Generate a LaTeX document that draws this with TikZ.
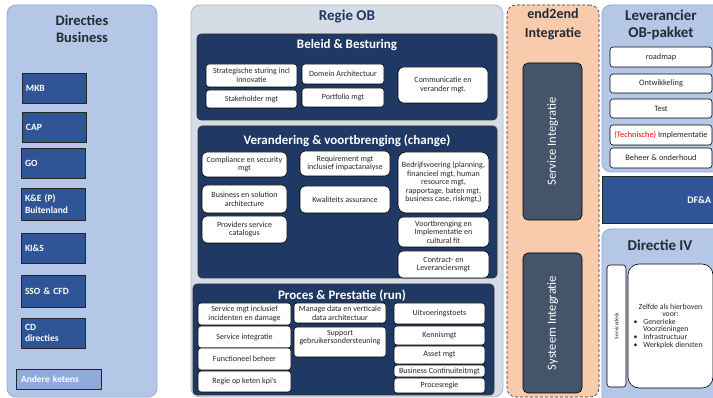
\documentclass[tikz,border=0pt]{standalone}
\usepackage{fontspec}
\setmainfont{Carlito}
\definecolor{lightblue}{HTML}{B4C7E7}
\definecolor{lightblueline}{HTML}{8FAADC}
\definecolor{regiefill}{HTML}{D6DCE5}
\definecolor{regieline}{HTML}{ADB9CA}
\definecolor{navy}{HTML}{203864}
\definecolor{midblue}{HTML}{2F5597}
\definecolor{paleblue}{HTML}{8FAADC}
\definecolor{peach}{HTML}{F8CBAD}
\definecolor{slate}{HTML}{44546A}
\definecolor{txt}{HTML}{262626}
\definecolor{titletxt}{HTML}{222A35}
\begin{document}
\begin{tikzpicture}[x=1pt,y=-1pt,
  panel/.style={rounded corners=9pt, line width=0.8pt, inner sep=0pt},
  navybox/.style={fill=navy, draw=black!80, rounded corners=4pt, line width=0.6pt, inner sep=0pt},
  wbox/.style={draw=black, fill=white, rounded corners=3pt, line width=0.6pt, align=center,
     inner sep=1pt, font=\fontsize{8}{8.6}\selectfont, text=txt},
  lbox/.style={draw=black!85, fill=midblue, line width=0.8pt, text=white,
     font=\bfseries\fontsize{9.5}{11.5}\selectfont, align=left, text width=56pt,
     inner xsep=4pt, inner ysep=0pt, minimum height=30pt},
  ptitle/.style={font=\bfseries\fontsize{14.5}{17.5}\selectfont, align=center, text=titletxt},
  wtitle/.style={font=\bfseries\fontsize{13}{15}\selectfont, text=white},
  vbox/.style={fill=slate, draw=black, rounded corners=5pt, line width=0.6pt, rotate=90,
     text=white, font=\fontsize{12.5}{14}\selectfont},
  levbox/.style={wbox, minimum width=102pt, font=\fontsize{8.3}{9}\selectfont}
]
\useasboundingbox (0,0) rectangle (713,398);
\clip (0,0) rectangle (713,398);

% ---------------- Directies Business ----------------
\node[panel, fill=lightblue, draw=lightblueline, minimum width=150pt, minimum height=392pt] (dirbus) at (82,201) {};
\node[ptitle] (dirbustitle) at (82,29) {Directies\\Business};
\node[lbox] (mkb) at (54,88.5) {MKB};
\node[lbox] (cap) at (54,127) {CAP};
\node[lbox] (go) at (53,163) {GO};
\node[lbox, minimum height=32pt] (ke) at (53,204) {K\&E (P)\\Buitenland};
\node[lbox] (kis) at (53,248) {KI\&S};
\node[lbox, minimum height=32pt] (sso) at (53,291) {SSO \& CFD};
\node[lbox] (cd) at (53,333) {CD\\directies};
\node[lbox, fill=paleblue, text width=75pt, inner xsep=5pt, minimum height=20pt] (andere) at (58.5,379) {Andere ketens};

% ---------------- Regie OB ----------------
\node[panel, fill=regiefill, draw=regieline, minimum width=312pt, minimum height=392pt] (regie) at (347,201) {};
\node[ptitle, text=navy, font=\bfseries\fontsize{15}{17}\selectfont] (regietitle) at (347,17) {Regie OB};

% Beleid & Besturing
\node[navybox, minimum width=300pt, minimum height=86pt] (beleid) at (347,77) {};
\node[wtitle] (beleidtitle) at (347,45) {Beleid \& Besturing};
\node[wbox, minimum width=91pt, minimum height=23pt] (strat) at (251.5,75.5) {Strategische sturing incl\\innovatie};
\node[wbox, minimum width=82pt, minimum height=20pt] (domein) at (343,74) {Domein Architectuur};
\node[wbox, minimum width=91pt, minimum height=18pt] (stake) at (251.5,99) {Stakeholder mgt};
\node[wbox, minimum width=82pt, minimum height=19pt] (portfolio) at (343,97.5) {Portfolio mgt};
\node[wbox, rounded corners=6pt, minimum width=90pt, minimum height=36pt] (commu) at (443,85) {Communicatie en\\verander mgt.};

% Verandering & voortbrenging
\node[navybox, minimum width=299pt, minimum height=152pt] (verand) at (347.5,202) {};
\node[wtitle] (verandtitle) at (347,141) {Verandering \& voortbrenging (change)};
\node[wbox, rounded corners=5pt, minimum width=85pt, minimum height=25pt] (compl) at (244.5,164.5) {Compliance en security\\mgt};
\node[wbox, rounded corners=5pt, minimum width=90pt, minimum height=25pt] (req) at (345,163.5) {Requirement mgt\\inclusief impactanalyse};
\node[wbox, rounded corners=8pt, minimum width=91pt, minimum height=61pt] (bedrijf) at (443.5,182.5) {Bedrijfsvoering (planning,\\financieel mgt, human\\resource mgt,\\rapportage, baten mgt,\\business case, riskmgt,)};
\node[wbox, rounded corners=5pt, minimum width=85pt, minimum height=28pt] (bussol) at (244.5,199) {Business en solution\\architecture};
\node[wbox, rounded corners=5pt, minimum width=90pt, minimum height=27pt] (kwal) at (345,199.5) {Kwaliteits assurance};
\node[wbox, rounded corners=5pt, minimum width=85pt, minimum height=27pt] (prov) at (244.5,229.5) {Providers service\\catalogus};
\node[wbox, rounded corners=5pt, minimum width=91pt, minimum height=30pt] (voort) at (443.5,232) {Voortbrenging en\\Implementatie en\\cultural fit};
\node[wbox, rounded corners=5pt, minimum width=91pt, minimum height=27pt] (contract) at (443.5,264.5) {Contract- en\\Leveranciersmgt};

% Proces & Prestatie
\node[navybox, minimum width=301pt, minimum height=111pt] (proces) at (343.5,339.5) {};
\node[wtitle] (procestitle) at (342,296) {Proces \& Prestatie (run)};
\node[wbox, minimum width=93pt, minimum height=22pt] (servmgt) at (244.5,314) {Service mgt inclusief\\incidenten en damage};
\node[wbox, minimum width=93pt, minimum height=22pt] (servint) at (244.5,337) {Service integratie};
\node[wbox, minimum width=93pt, minimum height=22pt] (funct) at (244.5,359) {Functioneel beheer};
\node[wbox, minimum width=93pt, minimum height=21pt] (regiekpi) at (244.5,381.5) {Regie op keten kpi’s};
\node[wbox, minimum width=92pt, minimum height=20pt] (manage) at (340,313) {Manage data en verticale\\data architectuur};
\node[wbox, minimum width=92pt, minimum height=30pt, text depth=10pt] (support) at (340,342) {Support\\gebruikersondersteuning};
\node[wbox, minimum width=91pt, minimum height=21pt] (uitv) at (439.5,313.5) {Uitvoeringstoets};
\node[wbox, minimum width=91pt, minimum height=19pt] (kennis) at (439.5,335.5) {Kennismgt};
\node[wbox, minimum width=91pt, minimum height=18pt] (asset) at (439.5,355) {Asset mgt};
\node[wbox, minimum width=91pt, minimum height=12pt] (bc) at (439.5,371) {Business Continuiteitmgt};
\node[wbox, minimum width=91pt, minimum height=15pt] (procesregie) at (439.5,385.5) {Procesregie};

% ---------------- end2end Integratie ----------------
\node[panel, fill=peach, draw=black!80, densely dashed, line width=0.6pt, minimum width=92pt, minimum height=392pt] (e2e) at (553,201) {};
\node[ptitle, font=\bfseries\fontsize{14}{19}\selectfont] (e2etitle) at (553,24.5) {end2end\\Integratie};
\node[vbox, minimum width=157pt, minimum height=59pt] (servintv) at (552.5,141.5) {Service Integratie};
\node[vbox, minimum width=140pt, minimum height=59pt] (systint) at (552.5,323) {Systeem Integratie};

% ---------------- Leverancier OB-pakket ----------------
\node[panel, fill=lightblue, draw=lightblueline, minimum width=138pt, minimum height=167pt] (lev) at (671,88.5) {};
\node[ptitle, font=\bfseries\fontsize{15}{17.5}\selectfont] (levtitle) at (661,25) {Leverancier\\OB-pakket};
\node[levbox, minimum height=20pt] (roadmap) at (661,57) {roadmap};
\node[levbox, minimum height=19pt] (ontw) at (661,83.5) {Ontwikkeling};
\node[levbox, minimum height=19pt] (test) at (661,108.5) {Test};
\node[levbox, minimum height=20pt] (techimpl) at (661,135) {{\color{red}(Technische)} Implementatie};
\node[levbox, minimum height=20pt] (beheer) at (661,158) {Beheer \& onderhoud};

% ---------------- DF&A ----------------
\node[draw=black!85, fill=midblue, line width=0.8pt, minimum width=138pt, minimum height=47pt, inner sep=0pt] (dfa) at (671,199.5) {};
\node[text=white, font=\bfseries\fontsize{10}{12}\selectfont, anchor=east, inner sep=1pt] (dfatext) at (712.5,200) {DF\&A};

% ---------------- Directie IV ----------------
\node[panel, fill=lightblue, draw=lightblueline, minimum width=138pt, minimum height=181pt] (dir4) at (671,319.5) {};
\node[ptitle, font=\bfseries\fontsize{15}{17.5}\selectfont] (dir4title) at (660,245) {Directie IV};
\node[wbox, rotate=90, minimum width=122pt, minimum height=19pt, font=\fontsize{5.5}{6}\selectfont] (servicedesk) at (616.5,326) {Servicedesk};
\node[wbox, rounded corners=11pt, minimum width=85pt, minimum height=124pt, font=\fontsize{7.8}{7.6}\selectfont] (zelfde) at (670.5,326)
 {Zelfde als hierboven\\voor:\\
  \makebox[74pt][l]{\textbullet\hspace{6pt}Generieke}\\
  \makebox[74pt][l]{\hspace{9.5pt}Voorzieningen}\\
  \makebox[74pt][l]{\textbullet\hspace{6pt}Infrastructuur}\\
  \makebox[74pt][l]{\textbullet\hspace{6pt}Werkplek diensten}};
\end{tikzpicture}
\end{document}
